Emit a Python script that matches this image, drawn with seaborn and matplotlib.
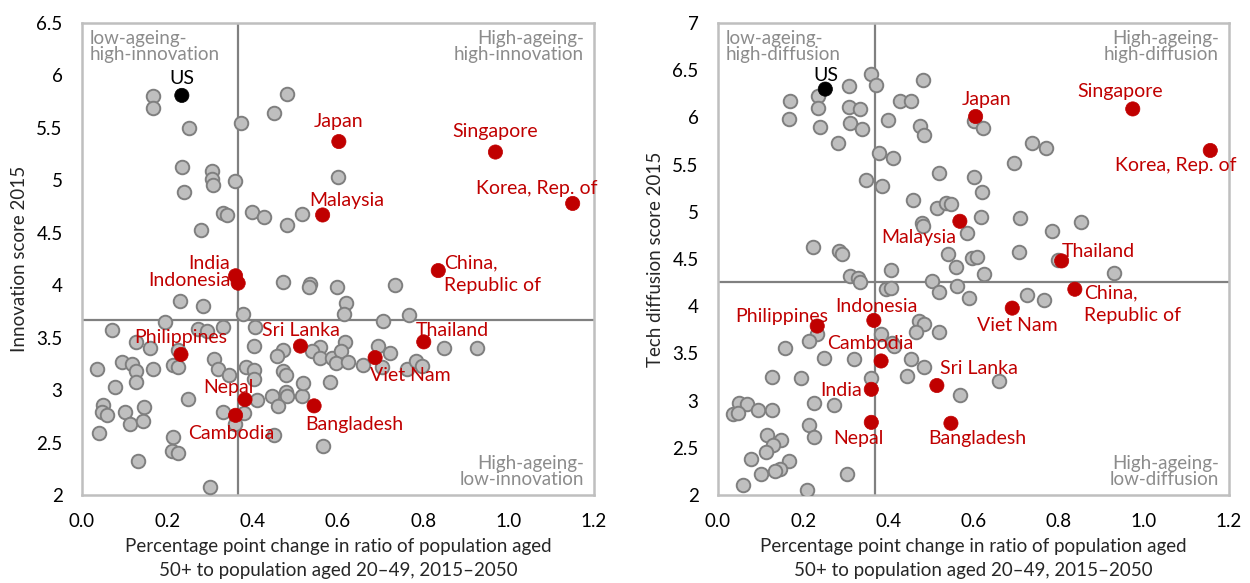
import numpy as np
import pandas as pd
import matplotlib
matplotlib.use("Agg")
import matplotlib.pyplot as plt
import seaborn as sns

sns.set_theme(style="white")
plt.rcParams["font.family"] = ["Lato", "DejaVu Sans"]

# ---------------------------------------------------------------- data
countries = ["US", "Japan", "Singapore", "Korea, Rep. of", "Malaysia",
             "China,\nRepublic of", "India", "Indonesia", "Thailand",
             "Sri Lanka", "Philippines", "Viet Nam", "Nepal", "Cambodia",
             "Bangladesh"]

# innovation panel: highlighted economies
ageing_inno = [0.234, 0.602, 0.969, 1.150, 0.564, 0.835, 0.360, 0.366, 0.801,
               0.512, 0.232, 0.687, 0.382, 0.360, 0.544]
innovation = [5.81, 5.37, 5.27, 4.78, 4.67, 4.14, 4.09, 4.02, 3.46,
              3.42, 3.34, 3.31, 2.91, 2.76, 2.85]

# tech diffusion panel: highlighted economies
ageing_diff = [0.252, 0.605, 0.974, 1.156, 0.568, 0.838, 0.360, 0.366, 0.807,
               0.514, 0.233, 0.691, 0.360, 0.383, 0.547]
diffusion = [6.30, 6.01, 6.09, 5.65, 4.90, 4.18, 3.12, 3.85, 4.48,
             3.16, 3.79, 3.98, 2.77, 3.42, 2.76]

# other economies, innovation panel
other_ageing_inno = [
    0.167, 0.166, 0.251, 0.372, 0.450, 0.480, 0.234, 0.305, 0.305, 0.308,
    0.359, 0.239, 0.331, 0.339, 0.399, 0.427, 0.481, 0.516, 0.280, 0.599,
    0.230, 0.283, 0.378, 0.195, 0.070, 0.273, 0.292, 0.330, 0.406, 0.126,
    0.159, 0.226, 0.404, 0.093, 0.118, 0.127, 0.036, 0.166, 0.213, 0.224,
    0.309, 0.319, 0.345, 0.384, 0.403, 0.404, 0.127, 0.078, 0.249, 0.409,
    0.445, 0.478, 0.481, 0.515, 0.517, 0.460, 0.050, 0.146, 0.046, 0.059,
    0.101, 0.112, 0.144, 0.331, 0.380, 0.359, 0.041, 0.213, 0.210, 0.226,
    0.131, 0.450, 0.300, 0.470, 0.534, 0.533, 0.598, 0.734, 0.619, 0.614,
    0.767, 0.706, 0.470, 0.456, 0.616, 0.558, 0.538, 0.558, 0.585, 0.606,
    0.595, 0.623, 0.658, 0.694, 0.723, 0.702, 0.761, 0.782, 0.798, 0.848,
    0.925, 0.472, 0.478, 0.581, 0.566]
other_inno = [
    5.80, 5.69, 5.50, 5.55, 5.645, 5.82, 5.13, 5.09, 5.01, 4.96,
    4.99, 4.89, 4.69, 4.67, 4.70, 4.65, 4.57, 4.68, 4.53, 5.03,
    3.85, 3.80, 3.73, 3.65, 3.57, 3.58, 3.56, 3.60, 3.60, 3.46,
    3.40, 3.38, 3.42, 3.27, 3.25, 3.18, 3.20, 3.20, 3.24, 3.22,
    3.30, 3.20, 3.14, 3.22, 3.19, 3.11, 3.08, 3.03, 2.92, 2.91,
    2.94, 2.98, 2.94, 2.94, 3.07, 2.85, 2.86, 2.84, 2.79, 2.76,
    2.79, 2.68, 2.71, 2.79, 2.78, 2.68, 2.59, 2.55, 2.42, 2.40,
    2.32, 2.57, 2.08, 4.03, 4.01, 3.98, 3.98, 4.00, 3.83, 3.73,
    3.72, 3.66, 3.38, 3.33, 3.46, 3.41, 3.37, 3.31, 3.31, 3.37,
    3.26, 3.27, 3.24, 3.42, 3.35, 3.22, 3.20, 3.28, 3.23, 3.40,
    3.40, 3.18, 3.14, 3.08, 2.47]

# other economies, tech diffusion panel
other_ageing_diff = [
    0.360, 0.372, 0.234, 0.307, 0.168, 0.234, 0.307, 0.333, 0.167, 0.240,
    0.309, 0.339, 0.400, 0.281, 0.378, 0.410, 0.482, 0.428, 0.453, 0.475,
    0.483, 0.520, 0.347, 0.386, 0.459, 0.514, 0.535, 0.547, 0.479, 0.482,
    0.222, 0.284, 0.291, 0.539, 0.601, 0.622, 0.737, 0.771, 0.696, 0.601,
    0.619, 0.617, 0.709, 0.785, 0.584, 0.852, 0.406, 0.310, 0.329, 0.334,
    0.559, 0.596, 0.609, 0.624, 0.706, 0.799, 0.502, 0.518, 0.561, 0.590,
    0.394, 0.406, 0.726, 0.766, 0.929, 0.473, 0.483, 0.465, 0.520, 0.382,
    0.408, 0.413, 0.454, 0.483, 0.444, 0.359, 0.569, 0.661, 0.232, 0.213,
    0.158, 0.250, 0.320, 0.126, 0.195, 0.049, 0.069, 0.035, 0.046, 0.094,
    0.127, 0.225, 0.272, 0.214, 0.225, 0.116, 0.147, 0.130, 0.112, 0.077,
    0.166, 0.146, 0.134, 0.102, 0.059, 0.210, 0.302]
other_diff = [
    6.46, 6.34, 6.23, 6.33, 6.17, 6.10, 6.11, 6.09, 5.98, 5.90,
    5.94, 5.88, 5.97, 5.73, 5.62, 5.57, 6.40, 6.17, 6.17, 5.91,
    5.81, 5.41, 5.34, 5.27, 5.13, 5.04, 5.09, 5.08, 4.88, 4.85,
    4.63, 4.58, 4.55, 4.55, 5.96, 5.89, 5.73, 5.68, 5.52, 5.37,
    5.21, 4.94, 4.93, 4.80, 4.78, 4.89, 4.38, 4.32, 4.30, 4.26,
    4.42, 4.51, 4.52, 4.34, 4.57, 4.49, 4.27, 4.15, 4.21, 4.09,
    4.18, 4.19, 4.12, 4.07, 4.35, 3.84, 3.81, 3.73, 3.73, 3.71,
    3.61, 3.58, 3.44, 3.36, 3.26, 3.24, 3.06, 3.21, 3.71, 3.63,
    3.56, 3.45, 3.44, 3.25, 3.24, 2.97, 2.96, 2.86, 2.87, 2.90,
    2.90, 2.98, 2.95, 2.74, 2.61, 2.64, 2.58, 2.53, 2.46, 2.38,
    2.36, 2.28, 2.25, 2.22, 2.11, 2.05, 2.22]

# quadrant dividers
split_ageing_inno, split_inno = 0.365, 3.67
split_ageing_diff, split_diff = 0.368, 4.26

# label placement (offset in pixels: right, up; horizontal alignment)
label_pos_inno = {
    "US": (0, 17, "center"), "Japan": (0, 20, "center"),
    "Singapore": (0, 21, "center"), "Korea, Rep. of": (-36, 15, "center"),
    "Malaysia": (24, 14, "center"), "China,\nRepublic of": (6, -4, "left"),
    "India": (-26, 12, "center"), "Indonesia": (-8, 3, "right"),
    "Thailand": (29, 11, "center"), "Sri Lanka": (0, 16, "center"),
    "Philippines": (0, 17, "center"), "Viet Nam": (35, -18, "center"),
    "Nepal": (-17, 12, "center"), "Cambodia": (-4, -18, "center"),
    "Bangladesh": (40, -19, "center"),
}
label_pos_diff = {
    "US": (1, 14, "center"), "Japan": (11, 17, "center"),
    "Singapore": (-13, 17, "center"), "Korea, Rep. of": (-35, -15, "center"),
    "Malaysia": (-41, -16, "center"), "China,\nRepublic of": (9, -15, "left"),
    "India": (-9, -1, "right"), "Indonesia": (3, 14, "center"),
    "Thailand": (37, 9, "center"), "Sri Lanka": (42, 17, "center"),
    "Philippines": (-35, 10, "center"), "Viet Nam": (5, -17, "center"),
    "Nepal": (-13, -16, "center"), "Cambodia": (-11, 17, "center"),
    "Bangladesh": (26, -15, "center"),
}

RED = "#c00000"
GREY_FILL = "#bfbfbf"
GREY_EDGE = "#7f7f7f"
QUAD_TEXT = "#8c8c8c"
FS = 13.5
FS_LABEL = 14

DPI = 100
fig = plt.figure(figsize=(12.5, 5.83), dpi=DPI)
ax1 = fig.add_axes([0.0656, 0.1509, 0.4096, 0.8096])
ax2 = fig.add_axes([0.5744, 0.1509, 0.4088, 0.8096])


def draw_panel(ax, hx, hy, ox, oy, xsplit, ysplit, ylim, ylabel, labels, quad_word):
    others = pd.DataFrame({"ageing": ox, "score": oy})
    focus = pd.DataFrame({"ageing": hx, "score": hy, "name": countries})
    focus["colour"] = np.where(focus["name"] == "US", "black", RED)

    ax.axvline(xsplit, color="#808080", lw=1.6, zorder=1)
    ax.axhline(ysplit, color="#808080", lw=1.6, zorder=1)

    sns.scatterplot(data=others, x="ageing", y="score", ax=ax, s=95,
                    color=GREY_FILL, edgecolor=GREY_EDGE, linewidth=1.4,
                    legend=False, zorder=3)
    sns.scatterplot(data=focus, x="ageing", y="score", ax=ax, s=105,
                    hue="name", palette=dict(zip(focus["name"], focus["colour"])),
                    edgecolor="face", linewidth=0.5, legend=False, zorder=4)

    pt = 72.0 / DPI
    for _, r in focus.iterrows():
        dx, dy, ha = labels[r["name"]]
        ax.annotate(r["name"], (r["ageing"], r["score"]),
                    xytext=(dx * pt, dy * pt), textcoords="offset points",
                    ha=ha, va="center", fontsize=FS_LABEL, color=r["colour"],
                    linespacing=1.4, zorder=5)

    ax.set_xlim(0, 1.2)
    ax.set_ylim(*ylim)
    ax.set_xticks(np.arange(0, 1.21, 0.2))
    ax.set_xticklabels([f"{v:.1f}" for v in np.arange(0, 1.21, 0.2)])
    yt = np.arange(ylim[0], ylim[1] + 0.01, 0.5)
    ax.set_yticks(yt)
    ax.set_yticklabels([f"{v:g}" for v in yt])
    ax.tick_params(axis="both", length=0, labelsize=FS, colors="black")
    ax.tick_params(axis="y", pad=14)
    ax.tick_params(axis="x", pad=13)
    for s in ax.spines.values():
        s.set_color("#bfbfbf")
        s.set_linewidth(1.8)
        s.set_visible(True)
    ax.set_xlabel("Percentage point change in ratio of population aged\n"
                  "50+ to population aged 20\u201349, 2015\u20132050",
                  fontsize=FS, linespacing=1.5, labelpad=6)
    ax.set_ylabel(ylabel, fontsize=FS, labelpad=6)

    qkw = dict(transform=ax.transAxes, fontsize=FS, color=QUAD_TEXT, linespacing=0.9)
    ax.text(0.015, 0.985, f"low-ageing-\nhigh-{quad_word}", ha="left", va="top", **qkw)
    ax.text(0.98, 0.985, f"High-ageing-\nhigh-{quad_word}", ha="right", va="top", **qkw)
    ax.text(0.98, 0.015, f"High-ageing-\nlow-{quad_word}", ha="right", va="bottom", **qkw)


draw_panel(ax1, ageing_inno, innovation, other_ageing_inno, other_inno,
           split_ageing_inno, split_inno, (2, 6.5), "Innovation score 2015",
           label_pos_inno, "innovation")
draw_panel(ax2, ageing_diff, diffusion, other_ageing_diff, other_diff,
           split_ageing_diff, split_diff, (2, 7), "Tech diffusion score 2015",
           label_pos_diff, "diffusion")

fig.savefig("out.png", dpi=DPI, facecolor="white")
